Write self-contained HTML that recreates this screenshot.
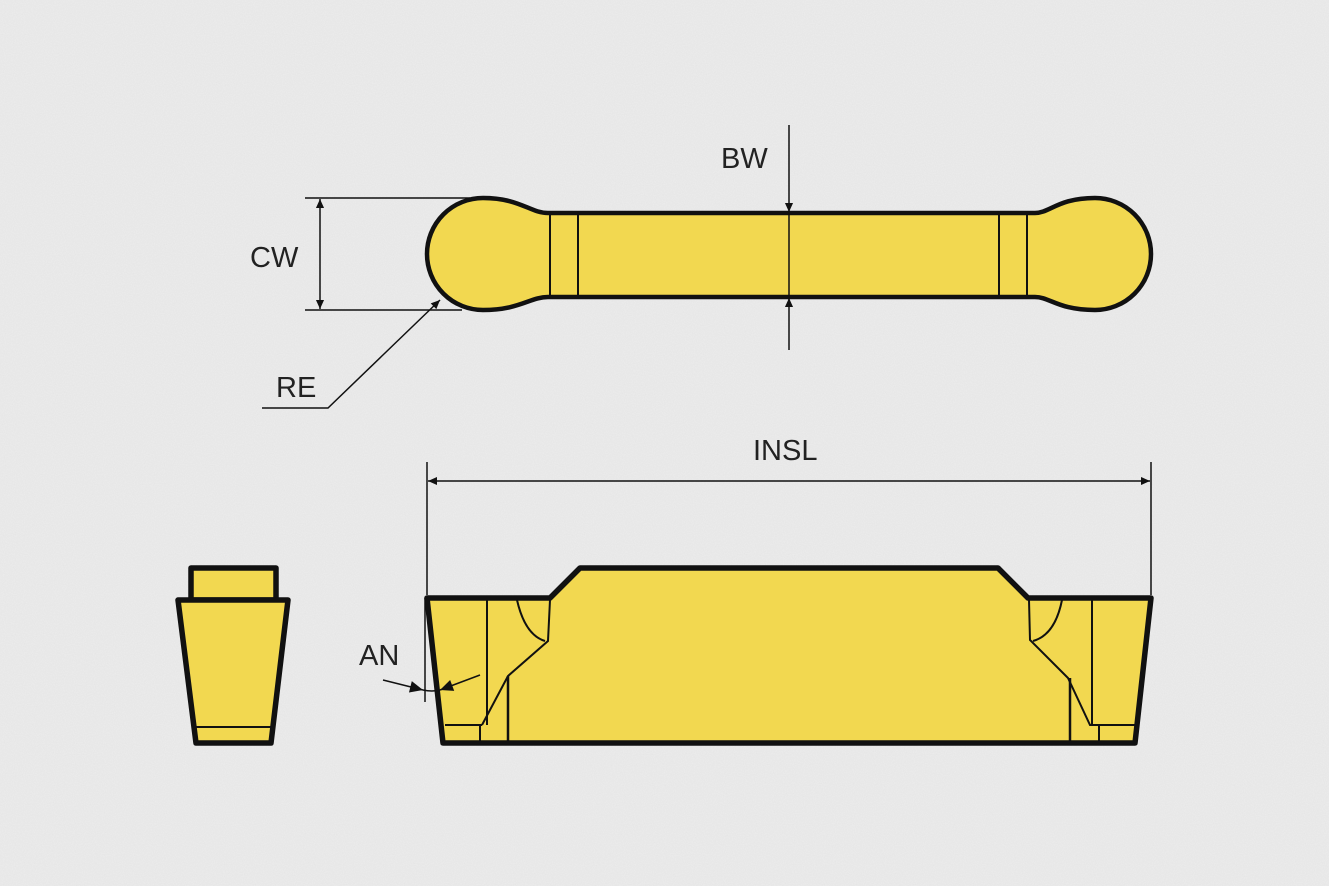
<!DOCTYPE html>
<html><head><style>
html,body{margin:0;padding:0;background:#ececec;}
svg{display:block}
text{font-family:"Liberation Sans",sans-serif;font-size:29px;fill:#222;}
</style></head><body>
<svg width="1329" height="886" viewBox="0 0 1329 886" xmlns="http://www.w3.org/2000/svg">
<defs>
<filter id="n"><feTurbulence type="fractalNoise" baseFrequency="0.9" numOctaves="2" seed="3"/><feColorMatrix values="0 0 0 0 0.5  0 0 0 0 0.5  0 0 0 0 0.5  0 0 0 0.18 0"/></filter>
<marker id="a" viewBox="0 0 10 10" refX="10" refY="5" markerWidth="22" markerHeight="9" markerUnits="userSpaceOnUse" orient="auto-start-reverse"><path d="M0,0.5 L10,5 L0,9.5 z" fill="#111"/></marker>
<marker id="b" viewBox="0 0 10 10" refX="10" refY="5" markerWidth="30" markerHeight="13" markerUnits="userSpaceOnUse" orient="auto-start-reverse"><path d="M0,0.5 L10,5 L0,9.5 z" fill="#111"/></marker>
</defs>
<rect width="1329" height="886" fill="#ededed"/>
<rect width="1329" height="886" filter="url(#n)"/>
<g fill="#f2d850" stroke="#111" stroke-linejoin="round">
<path d="M548,213 L1035,213 C1050,213 1058,198 1095,198 A56,56 0 0 1 1095,310 C1058,310 1050,297 1035,297 L548,297 C530,297 520,310 483,310 A56,56 0 0 1 483,198 C520,198 530,213 548,213 Z" stroke-width="4.5"/>
<path d="M427,598 L550,598 L580,568 L998,568 L1028,598 L1151,598 L1135,743 L443,743 Z" stroke-width="5.5"/>
<path d="M191,568 L276,568 L276,600 L191,600 Z" stroke-width="5.5"/>
<path d="M178,600 L288,600 L271,743 L196,743 Z" stroke-width="5.5"/>
</g>
<g fill="none" stroke="#111" stroke-width="2">
<line x1="550" y1="215" x2="550" y2="295"/><line x1="578" y1="215" x2="578" y2="295"/>
<line x1="999" y1="215" x2="999" y2="295"/><line x1="1027" y1="215" x2="1027" y2="295"/>
<line x1="193" y1="727" x2="274" y2="727"/>
<line x1="487" y1="600" x2="487" y2="725"/>
<line x1="445" y1="725" x2="482" y2="725"/>
<line x1="480" y1="725" x2="480" y2="741"/>
<path d="M482,725 L508,676 L548,641 L550,600"/>
<line x1="508" y1="676" x2="508" y2="741" stroke-width="2.5"/>
<path d="M517,600 Q525,635 545,641"/>
<path d="M1029,600 L1030,640 L1068,678 L1090,725 L1135,725"/>
<line x1="1070" y1="678" x2="1070" y2="741" stroke-width="2.5"/>
<line x1="1092" y1="600" x2="1092" y2="725"/>
<line x1="1099" y1="725" x2="1099" y2="741"/>
<path d="M1062,600 Q1055,635 1033,641"/>
</g>
<g fill="none" stroke="#111" stroke-width="1.5">
<line x1="305" y1="198" x2="470" y2="198"/><line x1="305" y1="310" x2="462" y2="310"/>
<line x1="320" y1="199" x2="320" y2="309" marker-start="url(#a)" marker-end="url(#a)"/>
<line x1="789" y1="125" x2="789" y2="212" marker-end="url(#a)"/>
<line x1="789" y1="212" x2="789" y2="298"/>
<line x1="789" y1="350" x2="789" y2="298" marker-end="url(#a)"/>
<path d="M262,408 L328,408 L440,300" marker-end="url(#a)"/>
<line x1="427" y1="462" x2="427" y2="595"/><line x1="1151" y1="462" x2="1151" y2="595"/>
<line x1="428" y1="481" x2="1150" y2="481" marker-start="url(#a)" marker-end="url(#a)"/>
<line x1="425" y1="598" x2="425" y2="702"/>
<path d="M383,680 L423,690"  marker-end="url(#b)"/>
<path d="M480,675 L440,690"  marker-end="url(#b)"/>
<path d="M423,690 Q432,692 440,690"/>
</g>
<text x="250" y="267">CW</text>
<text x="721" y="168">BW</text>
<text x="276" y="397">RE</text>
<text x="753" y="460">INSL</text>
<text x="359" y="665">AN</text>
</svg>
</body></html>
